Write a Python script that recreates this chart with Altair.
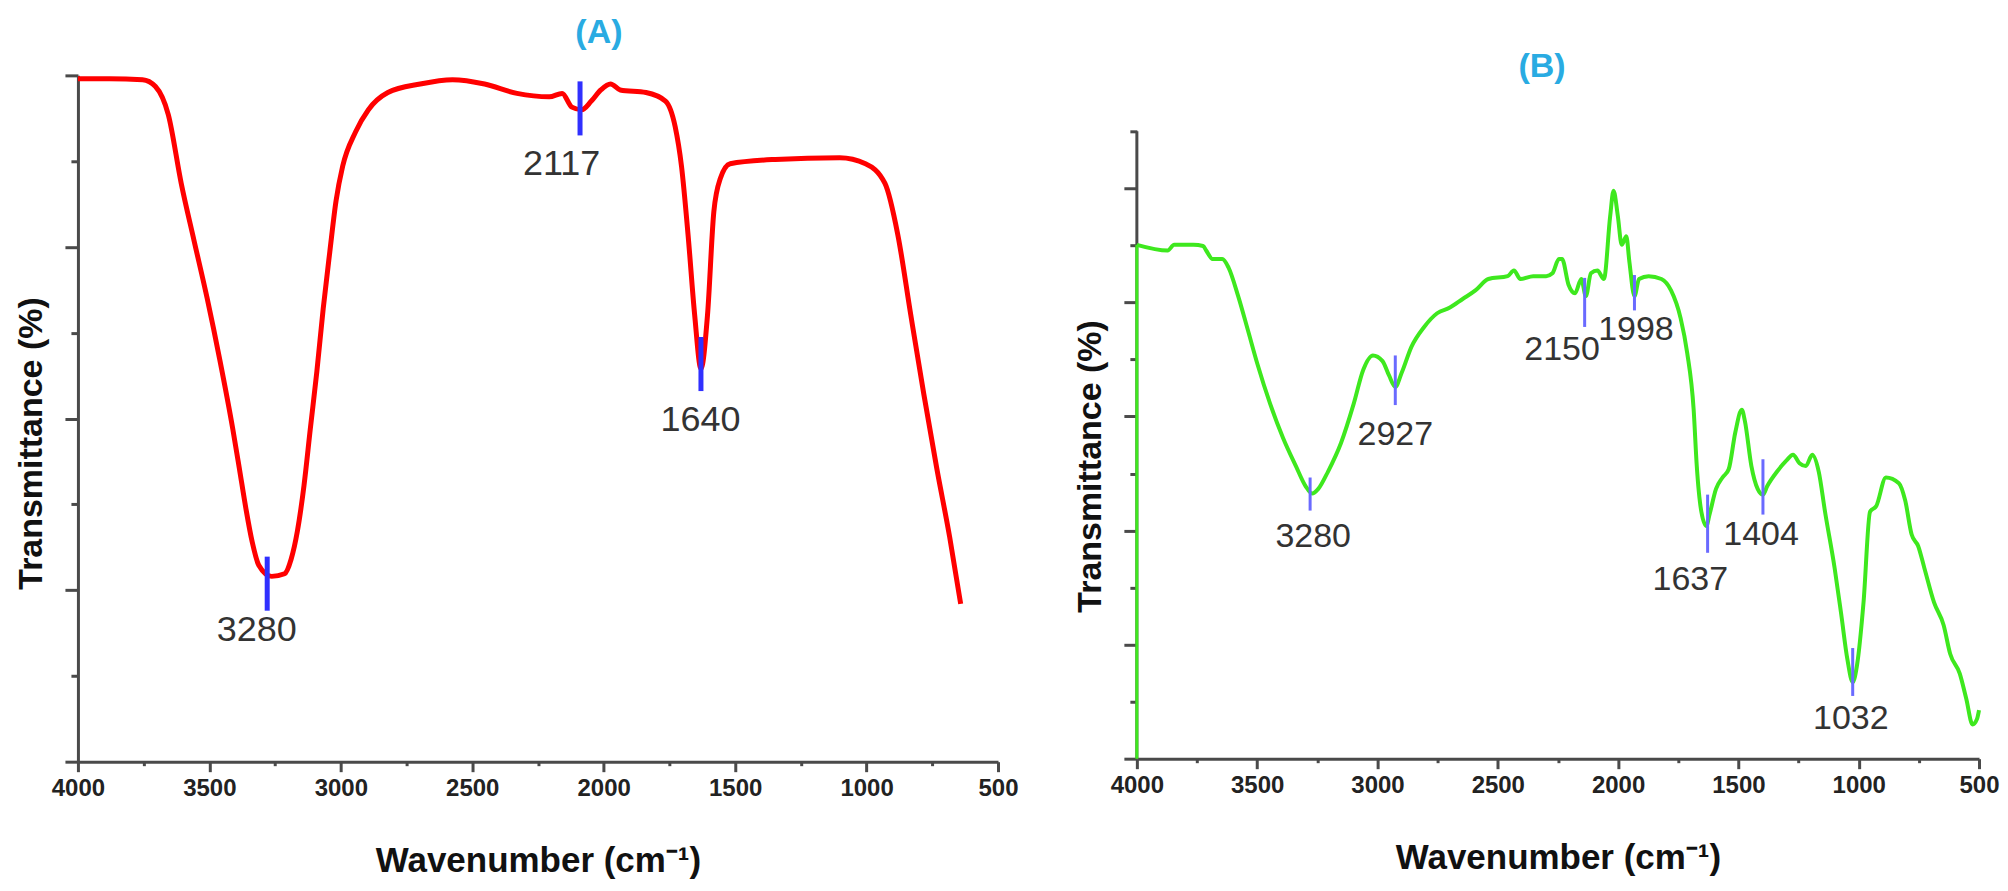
import altair as alt
import pandas as pd

# ---------------- Panel A (red spectrum) ----------------
a_wn = [4000, 3880, 3754, 3705, 3656, 3607, 3558, 3509, 3460, 3411, 3386, 3361, 3337,
        3312, 3263, 3214, 3189, 3165, 3140, 3116, 3091, 3067, 3042, 3018, 2993, 2944,
        2895, 2821, 2698, 2575, 2453, 2330, 2207, 2158, 2121, 2084, 2047, 2011, 1974,
        1937, 1839, 1765, 1728, 1704, 1679, 1654, 1630, 1605, 1581, 1556, 1519, 1347,
        1102, 1004, 930, 881, 832, 782, 733, 684, 642]
a_t = [79.6, 79.6, 79.5, 78.7, 75.4, 67.4, 60.7, 54.1, 46.8, 38.8, 34.2, 29.5, 25.6,
       22.9, 21.6, 21.9, 23.6, 26.9, 32.2, 38.8, 45.5, 52.8, 59.4, 65.4, 69.4, 73.4,
       76.0, 78.0, 79.0, 79.5, 79.0, 77.9, 77.5, 77.9, 76.3, 76.0, 77.0, 78.3, 79.0,
       78.3, 78.0, 77.0, 74.0, 69.4, 61.4, 52.1, 45.8, 52.1, 64.1, 68.0, 69.7, 70.2,
       70.4, 69.7, 67.4, 61.4, 52.1, 42.8, 34.2, 26.2, 18.4]
a_mark_x = [3280, 2090, 1630]
a_mark_y1 = [23.9, 79.3, 49.5]
a_mark_y2 = [17.6, 73.0, 43.2]
a_lab_text = ["3280", "2117", "1640"]
a_lab_x = [3320, 2160, 1632]
a_lab_y = [15.3, 69.7, 39.8]

# ---------------- Panel B (green spectrum) ----------------
b_wn = [4000, 3872, 3845, 3765, 3725, 3712, 3685, 3645, 3619, 3579, 3539, 3499,
        3446, 3392, 3339, 3299, 3272, 3246, 3206, 3152, 3099, 3059, 3019, 2979, 2952,
        2926, 2899, 2859, 2806, 2752, 2699, 2646, 2593, 2539, 2459, 2433, 2406, 2353,
        2299, 2273, 2246, 2233, 2206, 2179, 2153, 2134, 2113, 2086, 2059, 2033, 2019,
        2001, 1985, 1966, 1953, 1932, 1913, 1873, 1820, 1780, 1740, 1713, 1686, 1673,
        1654, 1633, 1620, 1593, 1566, 1540, 1513, 1486, 1473, 1446, 1420, 1398, 1380,
        1340, 1300, 1273, 1246, 1220, 1193, 1166, 1140, 1100, 1073, 1047, 1025, 1007,
        980, 953, 927, 887, 833, 807, 780, 753, 727, 687, 647, 620, 580, 553, 527, 508, 500]
b_t = [90.1, 89.1, 90.1, 90.1, 89.9, 89.1, 87.6, 87.6, 86.1, 81.1, 75.2, 69.2,
       62.2, 56.2, 51.3, 47.8, 46.5, 47.3, 50.3, 55.3, 62.2, 68.2, 70.7, 69.7, 67.2,
       65.2, 67.7, 72.2, 75.7, 78.1, 79.1, 80.6, 82.1, 84.1, 84.6, 85.6, 84.1, 84.6,
       84.6, 85.1, 87.6, 87.6, 83.1, 81.6, 84.1, 81.1, 85.1, 85.6, 84.1, 95.1, 99.6,
       95.1, 90.1, 91.6, 87.1, 81.1, 84.1, 84.6, 84.1, 82.1, 77.2, 71.2, 61.2, 51.3,
       43.3, 40.8, 42.8, 47.3, 49.3, 50.8, 57.2, 61.2, 59.2, 51.3, 47.3, 46.3, 47.8,
       50.3, 52.3, 53.3, 51.8, 51.3, 53.3, 50.3, 43.3, 33.4, 25.4, 17.4, 13.4, 16.4,
       27.4, 43.3, 44.3, 49.3, 48.3, 45.3, 39.3, 37.3, 33.4, 27.4, 23.4, 18.4, 14.9,
       10.5, 6.0, 7.0, 8.5]
# vertical start segment of the green trace (drawn over the y axis)
b_start_x = [4000]
b_start_y1 = [0.0]
b_start_y2 = [90.1]
b_mark_x = [3280, 2926, 2139, 1932, 1628, 1398, 1025]
b_mark_y1 = [49.3, 70.7, 84.3, 84.8, 46.3, 52.5, 19.4]
b_mark_y2 = [43.5, 62.0, 75.7, 78.6, 36.1, 42.8, 11.0]
b_lab_text = ["3280", "2927", "2150", "1998", "1637", "1404", "1032"]
b_lab_x = [3267, 2926, 2233, 1926, 1700, 1406, 1033]
b_lab_y = [38.8, 56.7, 71.7, 75.2, 31.4, 39.3, 7.0]

x_ticks = list(range(500, 4001, 250))
a_y_ticks = list(range(0, 81, 10))
b_y_ticks = list(range(0, 111, 10))
B_TOP = 110 * 684 / 628

AX = "#4a4a4a"
SANS = "Liberation Sans, Arial, Helvetica"


def x_axis():
    return alt.Axis(
        values=x_ticks,
        labelExpr="datum.value % 500 === 0 ? format(datum.value, 'd') : ''",
        tickSize={"condition": {"test": "datum.value % 500 === 0", "value": 10}, "value": 4},
        labelOverlap=False, labelFlush=False, grid=False,
        domainColor=AX, domainWidth=3, tickColor=AX, tickWidth=3,
        labelFont=SANS, labelFontWeight="bold", labelFontSize=24, labelColor="#222",
        labelPadding=5,
        title="Wavenumber (cm⁻¹)", titleFont=SANS, titleFontWeight="bold",
        titleFontSize=35, titleColor="#111", titlePadding=43,
    )


def y_axis(vals, title_y, domain=True):
    return alt.Axis(
        values=vals, labels=False, grid=False, domain=domain,
        tickSize={"condition": {"test": "datum.value % 20 === 0", "value": 13}, "value": 7},
        domainColor=AX, domainWidth=3, tickColor=AX, tickWidth=3,
        title="Transmittance (%)", titleFont=SANS, titleFontWeight="bold",
        titleFontSize=34, titleColor="#111", titlePadding=15, titleY=title_y,
    )


xs = alt.Scale(domain=[500, 4000], reverse=True, nice=False, zero=False)

# ---- Panel A ----
dfa = pd.DataFrame({"wn": a_wn, "t": a_t, "i": range(len(a_wn))})
dfa_m = pd.DataFrame({"x": a_mark_x, "y1": a_mark_y1, "y2": a_mark_y2})
dfa_l = pd.DataFrame({"x": a_lab_x, "y": a_lab_y, "txt": a_lab_text})
ya = alt.Scale(domain=[0, 80], nice=False, zero=False)

a_line = alt.Chart(dfa).mark_line(color="#ff0000", strokeWidth=5, interpolate="monotone").encode(
    x=alt.X("wn:Q", scale=xs, axis=x_axis()),
    y=alt.Y("t:Q", scale=ya, axis=y_axis(a_y_ticks, 368)),
    order="i:Q",
)
a_marks = alt.Chart(dfa_m).mark_rule(color="#3030ff", strokeWidth=5).encode(
    x="x:Q", y="y1:Q", y2="y2:Q")
a_labels = alt.Chart(dfa_l).mark_text(font=SANS, fontSize=36, color="#333").encode(
    x="x:Q", y="y:Q", text="txt:N")

panel_a = alt.layer(a_line, a_marks, a_labels).properties(
    width=921, height=687,
    title=alt.TitleParams("(A)", color="#29abe2", fontSize=34, fontWeight="bold",
                          font=SANS, dx=61, offset=19),
)

# ---- Panel B ----
dfb = pd.DataFrame({"wn": b_wn, "t": b_t, "i": range(len(b_wn))})
dfb_s = pd.DataFrame({"x": b_start_x, "y1": b_start_y1, "y2": b_start_y2})
dfb_m = pd.DataFrame({"x": b_mark_x, "y1": b_mark_y1, "y2": b_mark_y2})
dfb_l = pd.DataFrame({"x": b_lab_x, "y": b_lab_y, "txt": b_lab_text})
dfb_ax = pd.DataFrame({"x": [4000], "y1": [0], "y2": [110]})
yb = alt.Scale(domain=[0, B_TOP], nice=False, zero=False)

b_axis_line = alt.Chart(dfb_ax).mark_rule(color=AX, strokeWidth=3).encode(
    x=alt.X("x:Q", scale=xs, axis=x_axis()),
    y=alt.Y("y1:Q", scale=yb, axis=y_axis(b_y_ticks, 391, domain=False)),
    y2="y2:Q",
)
b_start = alt.Chart(dfb_s).mark_rule(color="#3ee81e", strokeWidth=3).encode(
    x="x:Q", y="y1:Q", y2="y2:Q")
b_line = alt.Chart(dfb).mark_line(color="#3ee81e", strokeWidth=4, interpolate="monotone").encode(
    x="wn:Q", y="t:Q", order="i:Q")
b_marks = alt.Chart(dfb_m).mark_rule(color="#6a6aff", strokeWidth=3).encode(
    x="x:Q", y="y1:Q", y2="y2:Q")
b_labels = alt.Chart(dfb_l).mark_text(font=SANS, fontSize=34, color="#333").encode(
    x="x:Q", y="y:Q", text="txt:N")

panel_b = alt.layer(b_axis_line, b_start, b_line, b_marks, b_labels).properties(
    width=843, height=684,
    title=alt.TitleParams("(B)", color="#29abe2", fontSize=34, fontWeight="bold",
                          font=SANS, dx=-16, offset=-9),
)

chart = alt.hconcat(panel_a, panel_b, spacing=139, bounds="flush").configure_view(
    stroke=None
).properties(
    padding={"left": 6, "top": 7, "right": 0, "bottom": 0}
)

chart.save("out.html", embed_options={"renderer": "svg", "actions": False})
